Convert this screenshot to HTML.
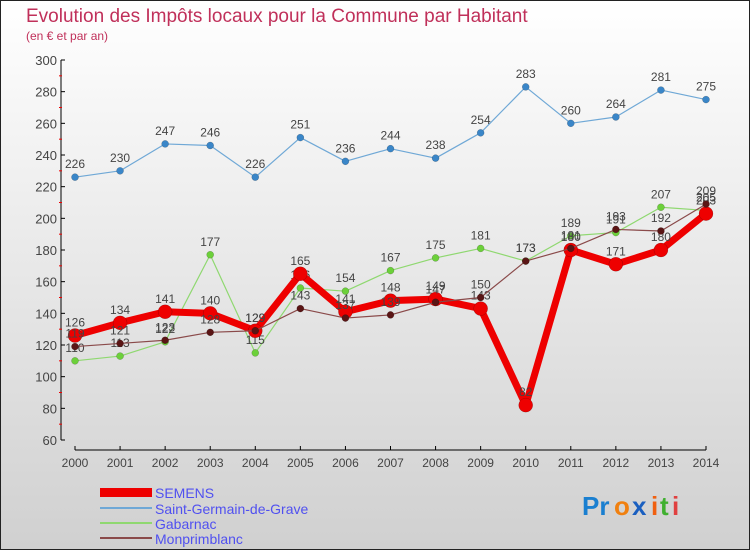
<!DOCTYPE html>
<html><head><meta charset="utf-8"><style>
body{margin:0;width:750px;height:550px;overflow:hidden;font-family:"Liberation Sans",sans-serif}
</style></head><body>
<svg width="750" height="550" xmlns="http://www.w3.org/2000/svg">
<defs><linearGradient id="bg" x1="0" y1="0" x2="0" y2="1"><stop offset="0" stop-color="#ffffff"/><stop offset="1" stop-color="#d0d0d0"/></linearGradient></defs>
<rect x="0.5" y="0.5" width="749" height="549" fill="url(#bg)" stroke="#222"/>
<text x="26" y="22" font-size="19" fill="#c0305a">Evolution des Impôts locaux pour la Commune par Habitant</text>
<text x="26" y="40" font-size="12" fill="#c0305a">(en € et par an)</text>
<g id="axes"></g>
<g id="series"></g>
<g>
<rect x="100" y="488" width="52" height="9" fill="#e00"/>
<text x="155" y="498" font-size="14" fill="#5050f0">SEMENS</text>
<line x1="100" y1="508" x2="152" y2="508" stroke="#6fa8d6" stroke-width="2"/>
<text x="155" y="514" font-size="14" fill="#5050f0">Saint-Germain-de-Grave</text>
<line x1="100" y1="523" x2="152" y2="523" stroke="#8fd870" stroke-width="2"/>
<text x="155" y="529" font-size="14" fill="#5050f0">Gabarnac</text>
<line x1="100" y1="538" x2="152" y2="538" stroke="#8a4a4a" stroke-width="2"/>
<text x="155" y="544" font-size="14" fill="#5050f0">Monprimblanc</text>
</g>
<g font-size="26" font-weight="bold">
<text x="582" y="515" fill="#1a7fd0">Pr</text><text x="614" y="515" fill="#f08010">o</text><text x="632" y="515" fill="#1a5fc0">x</text><text x="651" y="515" fill="#f06010">i</text><text x="660" y="515" fill="#40b030">t</text><text x="672" y="515" fill="#e04040">i</text>
</g>
</svg>
<script>
const years=["2000","2001","2002","2003","2004","2005","2006","2007","2008","2009","2010","2011","2012","2013","2014"];
const semens=[126,134,141,140,129,165,141,148,149,143,82,180,171,180,203];
const saintGermain=[226,230,247,246,226,251,236,244,238,254,283,260,264,281,275];
const gabarnac=[110,113,122,177,115,156,154,167,175,181,173,189,191,207,205];
const monprimblanc=[119,121,123,128,129,143,137,139,147,150,173,181,193,192,209];
const yTicks=[60,80,100,120,140,160,180,200,220,240,260,280,300];
const NS="http://www.w3.org/2000/svg";
const x=i=>75+i*(706-75)/(years.length-1);
const y=v=>440-(v-60)*380/240;
function mk(t,a,p){const e=document.createElementNS(NS,t);for(const k in a)e.setAttribute(k,a[k]);p.appendChild(e);return e;}
const ax=document.getElementById('axes');
const yl=mk('line',{x1:61,y1:60,x2:61,y2:440,stroke:'#000'},ax);


yTicks.forEach((v,i)=>{
  mk('line',{x1:61,y1:y(v),x2:65,y2:y(v),stroke:'#000'},ax);
  if(i<yTicks.length-1)mk('line',{x1:59,y1:y(v+10),x2:62,y2:y(v+10),stroke:'#e00'},ax);
  const t=mk('text',{x:57,y:y(v)+5,'font-size':13,'text-anchor':'end',fill:'#444'},ax);t.textContent=v;
  
  
});
const xl=mk('line',{x1:75,y1:450,x2:706,y2:450,stroke:'#000'},ax);


years.forEach((yr,i)=>{
  mk('line',{x1:x(i),y1:446,x2:x(i),y2:450,stroke:'#000'},ax);
  const t=mk('text',{x:x(i),y:467,'font-size':12,'text-anchor':'middle',fill:'#444'},ax);t.textContent=yr;
  
  
});
const sg=document.getElementById('series');
function draw(vals,name,color,w,r,dot){
  const g=mk('g',{},sg);
  
  
  mk('polyline',{points:vals.map((v,i)=>x(i)+','+y(v)).join(' '),fill:'none',stroke:color,'stroke-width':w,'stroke-linejoin':'round'},g);
  vals.forEach((v,i)=>{
    const c=mk('circle',{cx:x(i),cy:y(v),r:r,fill:dot,stroke:'#0000004d','stroke-width':0.5},g);
    
    
    const t=mk('text',{x:x(i),y:y(v)-9,'font-size':12,'text-anchor':'middle',fill:'#444'},g);t.textContent=v;
    
    
  });
}
draw(saintGermain,'saint-germain','#6fa8d6',1.2,3.5,'#3a86c8');
draw(gabarnac,'gabarnac','#8fd870',1.2,3.5,'#6cd03a');
draw(semens,'semens','#ee0000',7,7,'#ee0000');
draw(monprimblanc,'monprimblanc','#8a4a4a',1.2,3.5,'#5a1515');
</script>
</body></html>
